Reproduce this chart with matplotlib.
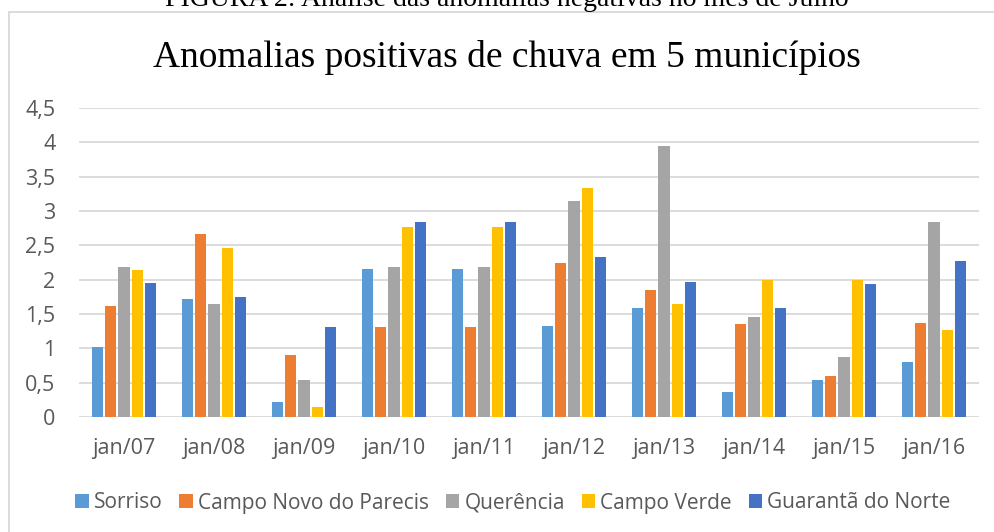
import matplotlib
matplotlib.use("Agg")
import matplotlib.pyplot as plt
import numpy as np
from matplotlib.patches import Patch, Rectangle
from matplotlib.ticker import FuncFormatter, MultipleLocator


# ====================================
# Data
# ====================================

categories = ["jan/07", "jan/08", "jan/09", "jan/10", "jan/11",
              "jan/12", "jan/13", "jan/14", "jan/15", "jan/16"]

series_names = ["Sorriso", "Campo Novo do Parecis", "Querência",
                "Campo Verde", "Guarantã do Norte"]

sorriso = [1.02, 1.72, 0.22, 2.15, 2.15, 1.33, 1.59, 0.36, 0.54, 0.80]
campo_novo = [1.61, 2.66, 0.90, 1.31, 1.31, 2.24, 1.85, 1.35, 0.60, 1.37]
querencia = [2.19, 1.65, 0.54, 2.18, 2.18, 3.14, 3.94, 1.46, 0.87, 2.84]
campo_verde = [2.14, 2.46, 0.15, 2.76, 2.76, 3.33, 1.65, 1.99, 1.99, 1.27]
guaranta = [1.95, 1.75, 1.31, 2.84, 2.84, 2.33, 1.96, 1.59, 1.93, 2.27]

series = [sorriso, campo_novo, querencia, campo_verde, guaranta]
colors = ["#5B9BD5", "#ED7D31", "#A5A5A5", "#FFC000", "#4472C4"]

caption = "FIGURA 2: Análise das anomalias negativas no mês de Julho"
title = "Anomalias positivas de chuva em 5 municípios"


# ====================================
# Figure
# ====================================

W, H = 995, 532
fig = plt.figure(figsize=(W / 100, H / 100), dpi=100)

ax = fig.add_axes([79 / W, 1 - 417 / H, 900 / W, 309 / H])

x = np.arange(len(categories))
slot = 0.147

for i, (vals, col) in enumerate(zip(series, colors)):
    ax.bar(
        x + (i - 2) * slot,
        vals,
        width=slot * 0.84,
        color=col,
        zorder=3
    )

ax.set_xlim(-0.5, len(categories) - 0.5)
ax.set_ylim(0, 4.5)
ax.yaxis.set_major_locator(MultipleLocator(0.5))
ax.yaxis.set_major_formatter(
    FuncFormatter(lambda v, p: f"{v:g}".replace(".", ","))
)
ax.set_xticks(x)
ax.set_xticklabels(categories)

ax.grid(axis="y", color="#D9D9D9", linewidth=1.3, zorder=0)
for s in ax.spines.values():
    s.set_visible(False)
ax.tick_params(axis="both", length=0, labelsize=15.5,
               labelcolor="#595959")
ax.tick_params(axis="y", pad=17)
ax.tick_params(axis="x", pad=15)
for lab in ax.get_xticklabels() + ax.get_yticklabels():
    lab.set_fontfamily("Open Sans")

# chart frame (cut by image edge on the right and bottom)
fig.patches.append(Rectangle(
    (8.5 / W, -0.1), 1.2, 1 - 12 / H + 0.1,
    transform=fig.transFigure, fill=False,
    edgecolor="#D9D9D9", linewidth=1.3
))

fig.text(507 / W, 1 - 67 / H, title, ha="center", va="baseline",
         fontsize=27, family="Liberation Serif", color="black")

# figure caption, partly cut by the top edge as in the source page
fig.text(507 / W, 1 - 6 / H, caption, ha="center", va="baseline",
         fontsize=20, family="Liberation Serif", color="black")

handles = [Patch(facecolor=c, label=n) for c, n in zip(colors, series_names)]
fig.legend(
    handles=handles,
    loc="center",
    bbox_to_anchor=(513 / W, 1 - 503 / H),
    ncol=5,
    frameon=False,
    prop={"family": "Open Sans", "size": 15},
    labelcolor="#595959",
    handlelength=0.65,
    handleheight=0.65,
    handletextpad=0.25,
    columnspacing=0.8,
    borderpad=0
)

fig.savefig("out.png", dpi=100)
